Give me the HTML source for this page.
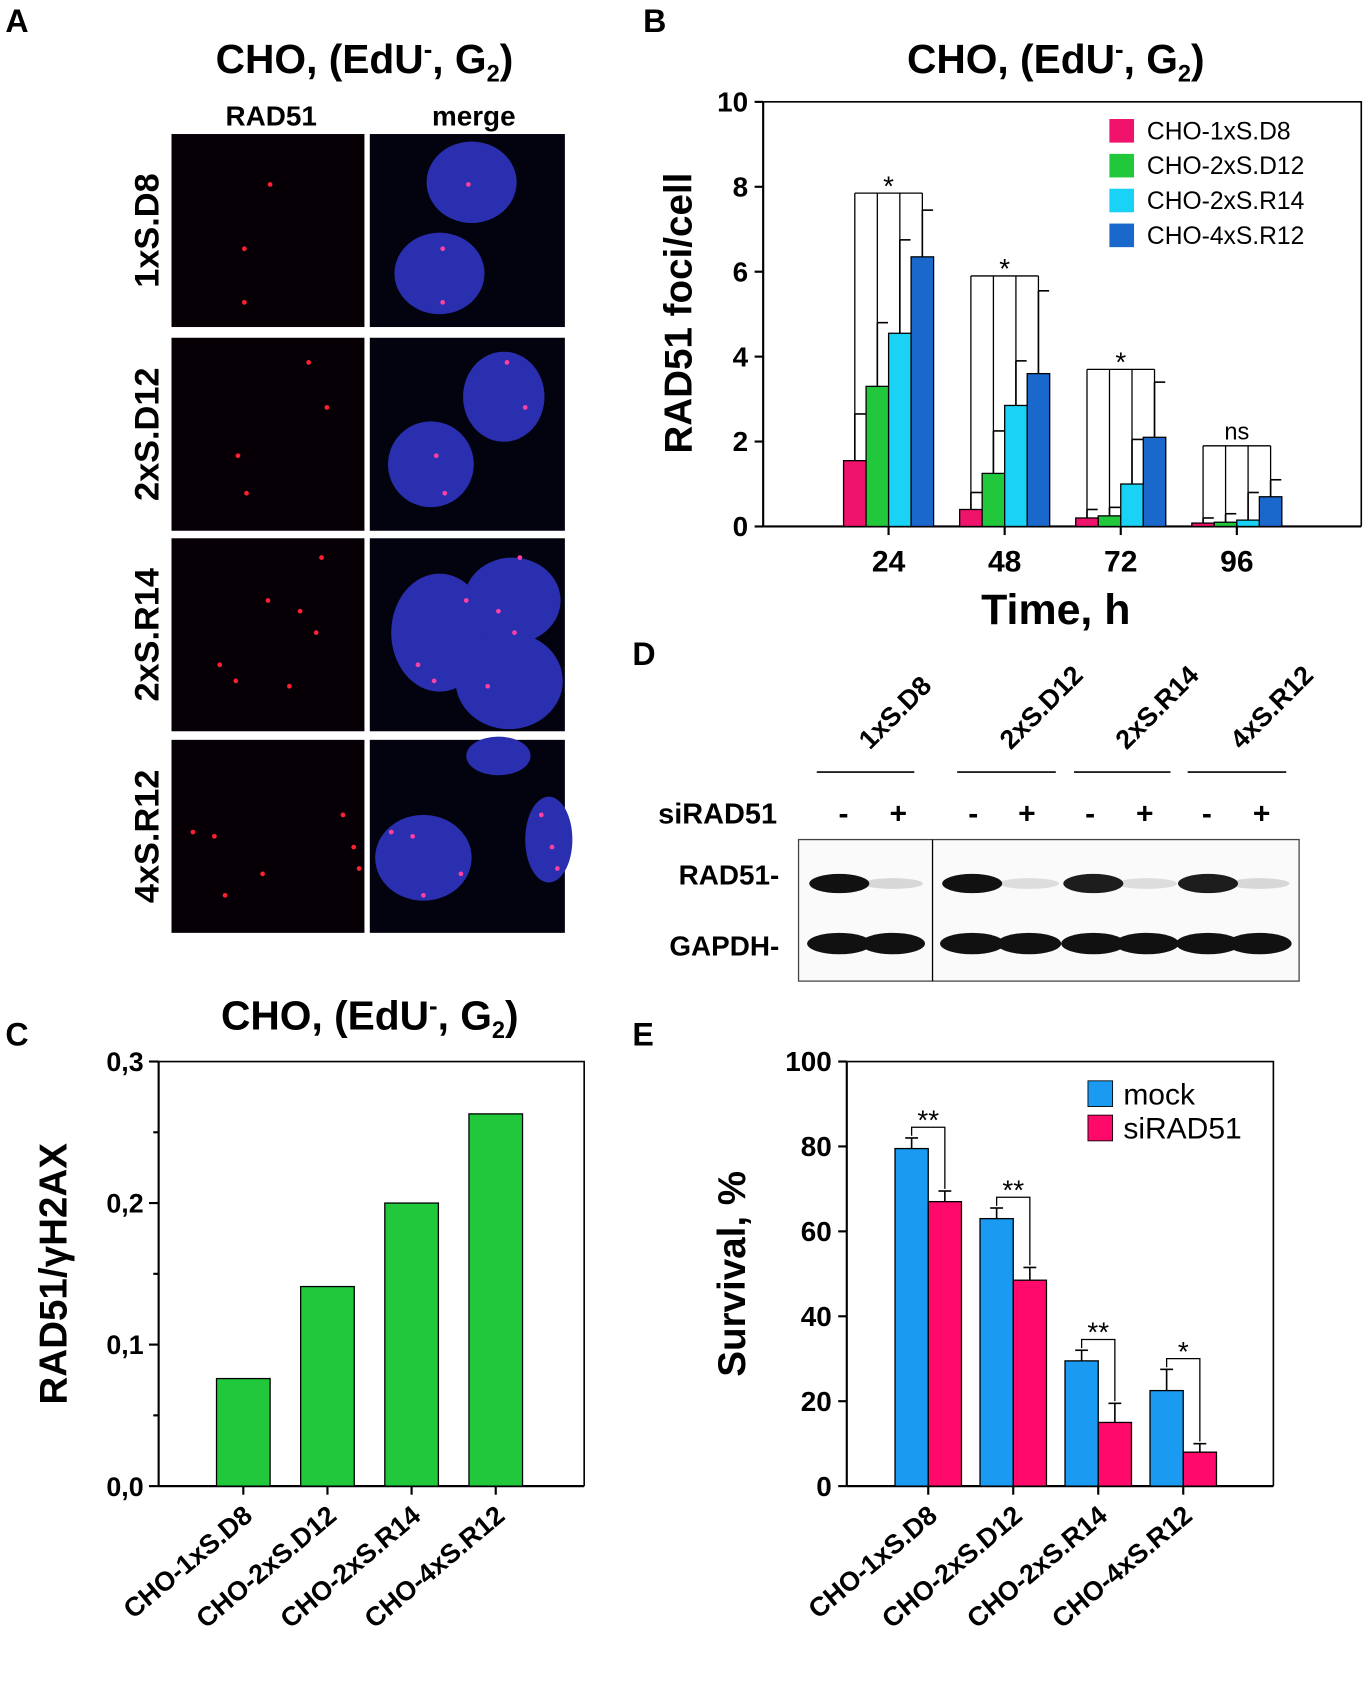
<!DOCTYPE html>
<html><head><meta charset="utf-8"><style>
html,body{margin:0;padding:0;background:#fff}
svg{display:block}
text{font-family:"Liberation Sans",Arial,sans-serif}
.b{font-weight:bold}
</style></head><body>
<svg id="fig" width="1372" height="1692" viewBox="0 0 1280 1578" preserveAspectRatio="none" xmlns="http://www.w3.org/2000/svg">
<g id="pa">
<text x="5" y="30" class="b" font-size="30">A</text>
<text x="340" y="68" class="b" font-size="38" text-anchor="middle">CHO, (EdU<tspan dy="-14" font-size="24">-</tspan><tspan dy="14">, G</tspan><tspan dy="8" font-size="22">2</tspan><tspan dy="-8">)</tspan></text>
<text x="253" y="117" class="b" font-size="26" text-anchor="middle">RAD51</text>
<text x="442" y="117" class="b" font-size="26" text-anchor="middle">merge</text>
</g>
<g id="pb"></g>
<g id="pc"></g>
<g id="pd"></g>
<g id="pe"></g>
</svg>
<script>
const NS="http://www.w3.org/2000/svg";
function mk(p,t,a,txt){const e=document.createElementNS(NS,t);for(const k in a)e.setAttribute(k,a[k]);if(txt!==undefined)e.textContent=txt;p.appendChild(e);return e;}
function line(p,x1,y1,x2,y2,w,c){return mk(p,'line',{x1,y1,x2,y2,stroke:c||'#000','stroke-width':w||1.5});}

// ---------- Panel A (micrographs) ----------
const pa=document.getElementById('pa');
const rowNames=['1xS.D8','2xS.D12','2xS.R14','4xS.R12'];
const rowY=[125,315,502,690];
const nuclei=[[[440,170,42,38],[410,255,42,38]],[[470,370,38,42],[402,433,40,40]],[[410,590,45,55],[478,560,45,40],[475,635,50,45]],[[395,800,45,40],[465,705,30,18],[512,783,22,40]]];
const dots=[[[252,172],[228,232],[228,282]],[[288,338],[305,380],[222,425],[230,460]],[[250,560],[280,570],[295,590],[205,620],[220,635],[270,640],[300,520]],[[180,776],[200,780],[210,835],[320,760],[330,790],[335,810],[245,815]]];
rowNames.forEach((n,i)=>{
  const y=rowY[i];
  const lab=mk(pa,'text',{x:148,y:y+90,'font-size':32,'class':'b','text-anchor':'middle',transform:`rotate(-90 148 ${y+90})`},n);
  
  
  const r1=mk(pa,'rect',{x:160,y:y,width:180,height:180,fill:'#060006'});
  
  
  const r2=mk(pa,'rect',{x:345,y:y,width:182,height:180,fill:'#03030f'});
  
  
  nuclei[i].forEach(nn=>{const e=mk(pa,'ellipse',{cx:nn[0],cy:nn[1],rx:nn[2],ry:nn[3],fill:'#2a2fb0'});});
  dots[i].forEach(d=>{mk(pa,'circle',{cx:d[0],cy:d[1],r:2.2,fill:'#ff2030'});mk(pa,'circle',{cx:d[0]+185,cy:d[1],r:2.2,fill:'#ff40a0'});});
});

// ---------- Panel B data ----------
const bTimes=['24','48','72','96'];
const bSeries=['CHO-1xS.D8','CHO-2xS.D12','CHO-2xS.R14','CHO-4xS.R12'];
const b1=[1.55,0.4,0.2,0.08];
const b2=[3.3,1.25,0.25,0.1];
const b3=[4.55,2.85,1.0,0.15];
const b4=[6.35,3.6,2.1,0.7];
const b1e=[2.65,0.8,0.4,0.2];
const b2e=[4.8,2.25,0.45,0.3];
const b3e=[6.75,3.9,2.05,0.8];
const b4e=[7.45,5.55,3.4,1.1];
const bSig=['*','*','*','ns'];
const bSigLevel=[7.85,5.9,3.7,1.9];
const bTicks=[0,2,4,6,8,10];
const bColors=['#f0136b','#22c83c','#19d2f5','#1a68cc'];

const pb=document.getElementById('pb');
{
  const L=712,R=1270,T=95,B0=491,ymax=10;
  const y=v=>B0-(v/ymax)*(B0-T);
  const xc=i=>829+i*108.3;
  mk(pb,'text',{x:600,y:30,'font-size':30,'class':'b'},'B');
  const t=mk(pb,'text',{x:985,y:68,'font-size':38,'class':'b','text-anchor':'middle'});
  t.innerHTML='CHO, (EdU<tspan dy="-14" font-size="24">-</tspan><tspan dy="14">, G</tspan><tspan dy="8" font-size="22">2</tspan><tspan dy="-8">)</tspan>';
  
  
  const frame=mk(pb,'path',{d:`M${L} ${T}H${R}V${B0}`,fill:'none',stroke:'#000','stroke-width':1.5});
  
  
  const ya=line(pb,L,T,L,B0,2);
  const xa=line(pb,L,B0,R,B0,2);
  bTicks.forEach(v=>{line(pb,L-8,y(v),L,y(v),2);
    const tl=mk(pb,'text',{x:L-14,y:y(v)+9,'font-size':26,'class':'b','text-anchor':'end'},String(v));
    });
  bTimes.forEach((tm,i)=>{line(pb,xc(i),B0,xc(i),B0+8,2);
    const tl=mk(pb,'text',{x:xc(i),y:533,'font-size':28,'class':'b','text-anchor':'middle'},tm);
    });
  const yt=mk(pb,'text',{x:645,y:292,'font-size':36,'class':'b','text-anchor':'middle',transform:'rotate(-90 645 292)'},'RAD51 foci/cell');
  
  const xt=mk(pb,'text',{x:985,y:582,'font-size':40,'class':'b','text-anchor':'middle'},'Time, h');
  
  const vals=[b1,b2,b3,b4],errs=[b1e,b2e,b3e,b4e];
  bTimes.forEach((tm,i)=>{
    const cs=[];
    for(let s=0;s<4;s++){
      const x=xc(i)-42+s*21, cx=x+10.5;cs.push(cx);
      line(pb,cx,y(vals[s][i]),cx,y(errs[s][i]),1.5);
      line(pb,cx,y(errs[s][i]),cx+10,y(errs[s][i]),1.5);
      const r=mk(pb,'rect',{x:x,y:y(vals[s][i]),width:21,height:B0-y(vals[s][i]),fill:bColors[s],stroke:'#000','stroke-width':1.2});
      
      
    }
    const yb=y(bSigLevel[i]);
    line(pb,cs[0],yb,cs[3],yb,1.2);
    for(let s=0;s<4;s++){ line(pb,cs[s],yb,cs[s],y(vals[s][i])-(s==3?0:0),1.2);}
    const st=mk(pb,'text',{x:(cs[0]+cs[3])/2,y:yb-(bSig[i]=='ns'?6:-2),'font-size':bSig[i]=='ns'?22:26,'text-anchor':'middle'},bSig[i]);
    
  });
  bSeries.forEach((s,k)=>{
    const yy=122+k*32.5;
    const sw=mk(pb,'rect',{x:1035,y:yy-11,width:23,height:22,fill:bColors[k]});
    
    const lt=mk(pb,'text',{x:1070,y:yy+8,'font-size':23},s);
    
  });
}

// ---------- Panel D (western blot) ----------
const pd=document.getElementById('pd');
{
  mk(pd,'text',{x:590,y:620,'font-size':30,'class':'b'},'D');
  const lanes=['1xS.D8','2xS.D12','2xS.R14','4xS.R12'];
  const lx=[[762,853],[893,985],[1002,1092],[1108,1200]];
  const minus=[787,908,1017,1126],plus=[838,958,1068,1177];
  lanes.forEach((l,i)=>{
    const cx=(lx[i][0]+lx[i][1])/2+4;
    const tl=mk(pd,'text',{x:cx,y:700,'font-size':25,'class':'b',transform:`rotate(-45 ${cx} 700)`},l);
    
    line(pd,lx[i][0],720,lx[i][1],720,1.5);
    mk(pd,'text',{x:minus[i],y:768,'font-size':28,'class':'b','text-anchor':'middle'},'-');
    mk(pd,'text',{x:plus[i],y:768,'font-size':28,'class':'b','text-anchor':'middle'},'+');
  });
  mk(pd,'text',{x:725,y:768,'font-size':27,'class':'b','text-anchor':'end'},'siRAD51');
  const box=mk(pd,'rect',{x:745,y:783,width:467,height:132,fill:'#fafafa',stroke:'#444','stroke-width':1.2});
  
  line(pd,870,783,870,915,1.2);
  mk(pd,'text',{x:727,y:825,'font-size':26,'class':'b','text-anchor':'end'},'RAD51-');
  mk(pd,'text',{x:727,y:891,'font-size':26,'class':'b','text-anchor':'end'},'GAPDH-');
  const radInt=[1,0.15,1,0.12,0.95,0.12,0.95,0.15];
  const lanesX=[783,833,907,960,1020,1070,1127,1175];
  lanesX.forEach((x,i)=>{
    mk(pd,'ellipse',{cx:x,cy:824,rx:28,ry:radInt[i]>0.5?9:5,fill:'#111','fill-opacity':radInt[i]});
    mk(pd,'ellipse',{cx:x,cy:880,rx:30,ry:10,fill:'#111'});
  });
}

// ---------- Panel C data ----------
const cCats=['CHO-1xS.D8','CHO-2xS.D12','CHO-2xS.R14','CHO-4xS.R12'];
const cVals=[0.076,0.141,0.2,0.263];
const cTicks=['0,0','0,1','0,2','0,3'];
const pc=document.getElementById('pc');
{
  const L=148,R=545,T=990,B0=1386,ymax=0.3;
  const y=v=>B0-(v/ymax)*(B0-T);
  const xc=i=>227+i*78.5;
  mk(pc,'text',{x:5,y:975,'font-size':30,'class':'b'},'C');
  const t=mk(pc,'text',{x:345,y:960,'font-size':38,'class':'b','text-anchor':'middle'});
  t.innerHTML='CHO, (EdU<tspan dy="-14" font-size="24">-</tspan><tspan dy="14">, G</tspan><tspan dy="8" font-size="22">2</tspan><tspan dy="-8">)</tspan>';
  
  mk(pc,'path',{d:`M${L} ${T}H${R}V${B0}`,fill:'none',stroke:'#000','stroke-width':1.5});
  line(pc,L,T,L,B0,2);
  line(pc,L,B0,R,B0,2);
  for(let k=0;k<=6;k++){const v=k*0.05;line(pc,L-(k%2?5:9),y(v),L,y(v),2);}
  cTicks.forEach((s,k)=>{const tl=mk(pc,'text',{x:L-14,y:y(k*0.1)+9,'font-size':25,'class':'b','text-anchor':'end'},s);
    });
  const yt=mk(pc,'text',{x:62,y:1188,'font-size':36,'class':'b','text-anchor':'middle',transform:'rotate(-90 62 1188)'},'RAD51/γH2AX');
  
  cCats.forEach((c,i)=>{
    const r=mk(pc,'rect',{x:xc(i)-25,y:y(cVals[i]),width:50,height:B0-y(cVals[i]),fill:'#22c83c',stroke:'#000','stroke-width':1.2});
    
    line(pc,xc(i),B0,xc(i),B0+8,2);
    const tl=mk(pc,'text',{x:xc(i)+10,y:B0+30,'font-size':25,'class':'b','text-anchor':'end',transform:`rotate(-40 ${xc(i)+10} ${B0+30})`},c);
    
  });
}

// ---------- Panel E data ----------
const eCats=['CHO-1xS.D8','CHO-2xS.D12','CHO-2xS.R14','CHO-4xS.R12'];
const eMock=[79.5,63,29.5,22.5];
const eMockErr=[82,65.5,32,27.5];
const eSi=[67,48.5,15,8];
const eSiErr=[69.5,51.5,19.5,10];
const eSig=['**','**','**','*'];
const eTicks=[0,20,40,60,80,100];
const pe=document.getElementById('pe');
{
  const L=790,R=1188,T=990,B0=1386,ymax=100;
  const y=v=>B0-(v/ymax)*(B0-T);
  const xc=i=>866+i*79.3;
  mk(pe,'text',{x:590,y:975,'font-size':30,'class':'b'},'E');
  mk(pe,'path',{d:`M${L} ${T}H${R}V${B0}`,fill:'none',stroke:'#000','stroke-width':1.5});
  line(pe,L,T,L,B0,2);
  line(pe,L,B0,R,B0,2);
  eTicks.forEach(v=>{line(pe,L-8,y(v),L,y(v),2);
    const tl=mk(pe,'text',{x:L-14,y:y(v)+9,'font-size':26,'class':'b','text-anchor':'end'},String(v));
    });
  const yt=mk(pe,'text',{x:695,y:1188,'font-size':36,'class':'b','text-anchor':'middle',transform:'rotate(-90 695 1188)'},'Survival, %');
  
  eCats.forEach((c,i)=>{
    const xm=xc(i)-31,xs=xc(i);
    [[xm,eMock[i],eMockErr[i],'#1a9af0','mock'],[xs,eSi[i],eSiErr[i],'#ff0a6a','sirad51']].forEach(d=>{
      const cx=d[0]+15.5;
      line(pe,cx,y(d[1]),cx,y(d[2]),1.5);line(pe,cx-6,y(d[2]),cx+6,y(d[2]),1.5);
      const r=mk(pe,'rect',{x:d[0],y:y(d[1]),width:31,height:B0-y(d[1]),fill:d[3],stroke:'#000','stroke-width':1.2});
      
      
    });
    const yb=y(eMockErr[i])-10;
    mk(pe,'path',{d:`M${xm+15.5} ${y(eMockErr[i])-2}V${yb}H${xs+15.5}V${y(eSiErr[i])-2}`,fill:'none',stroke:'#000','stroke-width':1.2});
    const st=mk(pe,'text',{x:xc(i),y:yb+2,'font-size':26,'text-anchor':'middle'},eSig[i]);
    
    line(pe,xc(i),B0,xc(i),B0+8,2);
    const tl=mk(pe,'text',{x:xc(i)+10,y:B0+30,'font-size':25,'class':'b','text-anchor':'end',transform:`rotate(-40 ${xc(i)+10} ${B0+30})`},c);
    
  });
  [['mock','#1a9af0',1020],['siRAD51','#ff0a6a',1052]].forEach(l=>{
    const sw=mk(pe,'rect',{x:1015,y:l[2]-12,width:23,height:24,fill:l[1],stroke:'#000','stroke-width':0.8});
    
    const lt=mk(pe,'text',{x:1048,y:l[2]+10,'font-size':28},l[0]);
    
  });
}
</script>
</body></html>
